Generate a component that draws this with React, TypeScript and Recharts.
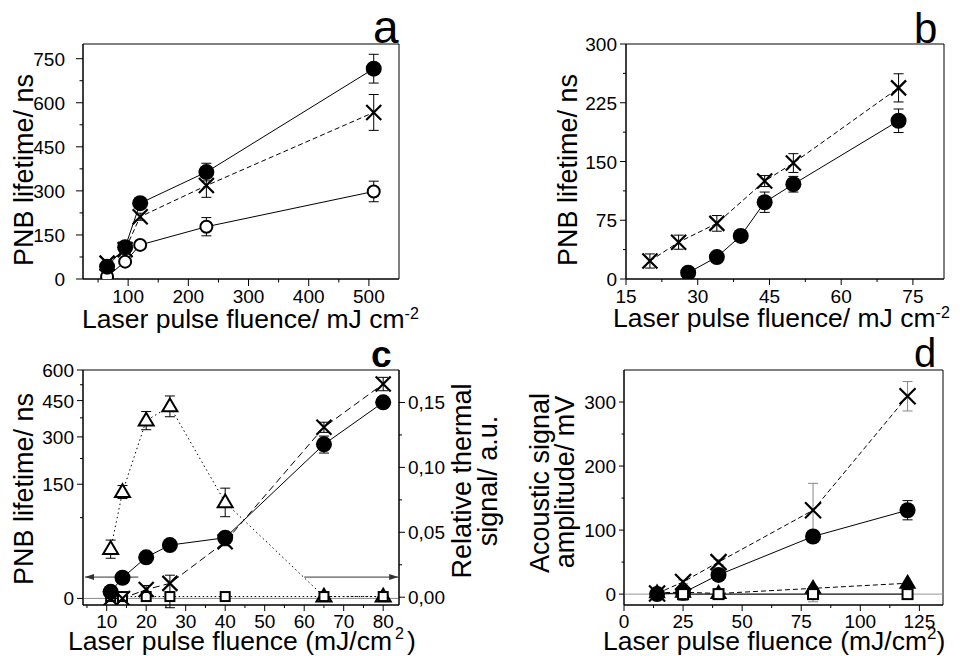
import {
  ComposedChart,
  Line,
  XAxis,
  YAxis,
  ErrorBar,
  ReferenceArea,
  ReferenceLine,
} from "recharts";

const FONT = "'Liberation Sans', Arial, Helvetica, sans-serif";
const TICK_FS = 19;

// --- panel a : PNB lifetime vs fluence (three samples)
const aFluence = [65, 95, 120, 230, 508];
const aFilled = [42, 108, 258, 364, 716];
const aFilledErr = [6, 12, 10, 30, 49];
const aCross = [54, 100, 212, 318, 567];
const aCrossErr = [5, 10, 12, 40, 61];
const aOpen = [8, 59, 116, 178, 298];
const aOpenErr = [4, 8, 8, 31, 35];
const aXTicks = [100, 200, 300, 400, 500];
const aXMinor = [50, 150, 250, 350, 450];
const aYTicks = [0, 150, 300, 450, 600, 750];
const aYMinor = [75, 225, 375, 525, 675];

// --- panel b
const bCrossFluence = [20, 26, 34, 44, 50, 72];
const bCross = [23, 47, 71, 125, 148, 244];
const bCrossErr = [9, 9, 10, 7, 12, 18];
const bFilledFluence = [28, 34, 39, 44, 50, 72];
const bFilled = [8, 28, 55, 98, 121, 202];
const bFilledErr = [3, 4, 5, 13, 10, 15];
const bXTicks = [15, 30, 45, 60, 75];
const bXMinor = [22.5, 37.5, 52.5, 67.5];
const bYTicks = [0, 75, 150, 225, 300];
const bYMinor = [37.5, 112.5, 187.5, 262.5];

// --- panel c : lifetime (left, compressed axis) + thermal signal (right)
const cFluence = [11, 14, 20, 26, 40, 65, 80];
const cFilled = [0.5, 4.9, 19.4, 32.7, 42.3, 273, 442];
const cFilledErr = [0, 0, 2, 3, 3, 30, 0];
const cCross = [0, 0, 0.9, 2.6, 36.9, 337, 529];
const cCrossErr = [0, 0, 1, 3.6, 5, 20, 33];
const cTriangle = [0.037, 0.081, 0.136, 0.147, 0.073, 0.0005, 0.0005];
const cTriangleErr = [0.007, 0.005, 0.007, 0.008, 0.011, 0.002, 0.002];
const cSquare = [0.0005, 0.0005, 0.0005, 0.0005, 0.0005, 0.0005, 0.0005];
const cXTicks = [10, 20, 30, 40, 50, 60, 70, 80];
const cXMinor = [5, 15, 25, 35, 45, 55, 65, 75];
const cYTicks = [0, 150, 300, 450, 600];
const cYMinor = [75, 225, 375, 525];
const cRTicks = [0, 0.05, 0.1, 0.15];
const cRMinor = [0.025, 0.075, 0.125];

// --- panel d : acoustic amplitude
const dFluence = [14, 25, 40, 80, 120];
const dCross = [1, 19, 50, 131, 309];
const dCrossErr = [0, 3, 4, 42, 23];
const dFilled = [0, 2, 30, 90, 131];
const dFilledErr = [0, 1, 3, 5, 15];
const dTriangle = [2, 3, 1, 9, 17];
const dSquare = [null, 0, 0, 0, 0];
const dSquareErr = [0, 10, 2, 12, 5];
const dXTicks = [0, 25, 50, 75, 100, 125];
const dXMinor = [12.5, 37.5, 62.5, 87.5, 112.5];
const dYTicks = [0, 100, 200, 300];
const dYMinor = [50, 150, 250];

type Pt = { x: number; y: number | null; e: number };
const pts = (xs: number[], ys: (number | null)[], es?: number[]): Pt[] =>
  xs.map((x, i) => ({ x, y: ys[i], e: es ? es[i] : 0 }));

type Mk = "disc" | "ring" | "cross" | "tri" | "triFill" | "square";

// marker glyphs, drawn at the point the Line gives us
const marker = (kind: Mk, r = 7.5) => (p: any) => {
  const { cx, cy, index } = p;
  const k = `m${index}`;
  if (cx == null || cy == null || Number.isNaN(cy)) return <g key={k} />;
  switch (kind) {
    case "disc":
      return <circle key={k} cx={cx} cy={cy} r={r} fill="#000" />;
    case "ring":
      return <circle key={k} cx={cx} cy={cy} r={r - 1} fill="#fff" stroke="#000" strokeWidth={2} />;
    case "cross":
      return (
        <path
          key={k}
          d={`M${cx - r},${cy - r}L${cx + r},${cy + r}M${cx - r},${cy + r}L${cx + r},${cy - r}`}
          stroke="#000"
          strokeWidth={2.2}
          fill="none"
        />
      );
    case "tri":
    case "triFill": {
      const h = r * 1.7;
      return (
        <path
          key={k}
          d={`M${cx},${cy - h * 0.62}L${cx + r},${cy + h * 0.38}L${cx - r},${cy + h * 0.38}Z`}
          fill={kind === "tri" ? "#fff" : "#000"}
          stroke="#000"
          strokeWidth={2}
        />
      );
    }
    default:
      return (
        <rect key={k} x={cx - r} y={cy - r} width={2 * r} height={2 * r} fill="#fff" stroke="#000" strokeWidth={2} />
      );
  }
};

// tick with its own mark: long for labelled values, short for minor ones
const tickOf =
  (
    side: "left" | "right" | "bottom",
    majors: number[],
    gap: number,
    len = 6,
    fmt: (v: number) => string = String
  ) =>
  (p: any) => {
    const { x, y, payload } = p;
    const v = payload.value;
    const major = majors.includes(v);
    const l = major ? len : len / 2;
    if (side === "bottom") {
      return (
        <g>
          <line x1={x} y1={y} x2={x} y2={y + l} stroke="#000" />
          {major && (
            <text x={x} y={y + gap} textAnchor="middle" fontSize={TICK_FS} fontFamily={FONT} fill="#000">
              {fmt(v)}
            </text>
          )}
        </g>
      );
    }
    const s = side === "left" ? -1 : 1;
    return (
      <g>
        <line x1={x} y1={y} x2={x + s * l} y2={y} stroke="#000" />
        {major && (
          <text
            x={x + s * (len + gap)}
            y={y + 7}
            textAnchor={side === "left" ? "end" : "start"}
            fontSize={TICK_FS}
            fontFamily={FONT}
            fill="#000"
          >
            {fmt(v)}
          </text>
        )}
      </g>
    );
  };

const comma = (v: number) => v.toFixed(2).replace(".", ",");

const axisProps = {
  tickLine: false,
  tickSize: 0,
  tickMargin: 0,
  interval: 0 as const,
  stroke: "#000",
  allowDataOverflow: true,
};

function series(
  id: string,
  data: Pt[],
  kind: Mk,
  dash: string | undefined,
  yAxisId: string,
  r = 7.5,
  errColor = "#000"
) {
  return (
    <Line
      key={id}
      data={data}
      dataKey="y"
      yAxisId={yAxisId}
      stroke="#000"
      strokeWidth={1}
      strokeDasharray={dash}
      dot={marker(kind, r)}
      activeDot={false}
      isAnimationActive={false}
    >
      <ErrorBar dataKey="e" direction="y" width={5} stroke={errColor} strokeWidth={1} />
    </Line>
  );
}

const arrowShape = (head: "start" | "end") => (p: any) => {
  const { x1, y1, x2, y2 } = p;
  const hx = head === "start" ? x1 : x2;
  const d = head === "start" ? 1 : -1;
  return (
    <g>
      <line x1={x1} y1={y1} x2={x2} y2={y2} stroke="#333" strokeWidth={1} />
      <path d={`M${hx},${y1}l${d * 9},-3l0,6z`} fill="#333" />
    </g>
  );
};

function PanelA() {
  const xd = [25, 550];
  const yd = [0, 800];
  return (
    <ComposedChart width={480} height={328} margin={{ top: 44, right: 81, bottom: 0, left: 0 }}>
      <XAxis type="number" dataKey="x" domain={xd} ticks={[...aXMinor, ...aXTicks]} tick={tickOf("bottom", aXTicks, 24, 7)} height={49} {...axisProps} />
      <YAxis yAxisId="l" type="number" domain={yd} ticks={[...aYMinor, ...aYTicks]} tick={tickOf("left", aYTicks, 11, 7)} width={83} {...axisProps} />
      <ReferenceArea yAxisId="l" x1={xd[0]} x2={xd[1]} y1={yd[0]} y2={yd[1]} fill="none" stroke="#000" strokeWidth={1} />
      {series("open", pts(aFluence, aOpen, aOpenErr), "ring", undefined, "l", 7)}
      {series("cross", pts(aFluence, aCross, aCrossErr), "cross", "5 3", "l")}
      {series("filled", pts(aFluence, aFilled, aFilledErr), "disc", undefined, "l", 8)}
    </ComposedChart>
  );
}

function PanelB() {
  const xd = [15, 81.5];
  const yd = [0, 300];
  return (
    <ComposedChart width={480} height={328} margin={{ top: 44, right: 16, bottom: 0, left: 0 }}>
      <XAxis type="number" dataKey="x" domain={xd} ticks={[...bXMinor, ...bXTicks]} tick={tickOf("bottom", bXTicks, 24, 6)} height={49} {...axisProps} />
      <YAxis yAxisId="l" type="number" domain={yd} ticks={[...bYMinor, ...bYTicks]} tick={tickOf("left", bYTicks, 3, 6)} width={146} {...axisProps} />
      <ReferenceArea yAxisId="l" x1={xd[0]} x2={xd[1]} y1={yd[0]} y2={yd[1]} fill="none" stroke="#000" strokeWidth={1} />
      {series("cross", pts(bCrossFluence, bCross, bCrossErr), "cross", "5 3", "l")}
      {series("filled", pts(bFilledFluence, bFilled, bFilledErr), "disc", undefined, "l", 8)}
    </ComposedChart>
  );
}

function PanelC() {
  const xd = [4, 84];
  const yd = [-0.5, 600];
  const rd = [-0.006, 0.175];
  return (
    <ComposedChart width={480} height={328} margin={{ top: 42, right: 0, bottom: 0, left: 0 }}>
      <XAxis type="number" dataKey="x" domain={xd} ticks={[...cXMinor, ...cXTicks]} tick={tickOf("bottom", cXTicks, 23.3, 6)} height={51} {...axisProps} />
      <YAxis yAxisId="l" type="number" scale="sqrt" domain={yd} ticks={[...cYMinor, ...cYTicks]} tick={tickOf("left", cYTicks, 3, 6)} width={83} {...axisProps} />
      <YAxis yAxisId="r" orientation="right" type="number" domain={rd} ticks={[...cRMinor, ...cRTicks]} tick={tickOf("right", cRTicks, 3, 6, comma)} width={81} {...axisProps} />
      <ReferenceArea yAxisId="r" x1={xd[0]} x2={xd[1]} y1={rd[0]} y2={rd[1]} fill="none" stroke="#000" strokeWidth={1} />
      <ReferenceLine yAxisId="l" y={0} stroke="#888" strokeWidth={1} />
      <ReferenceLine
        yAxisId="r"
        segment={[{ x: 4.5, y: 0.0155 }, { x: 18, y: 0.0155 }]}
        ifOverflow="visible"
        shape={arrowShape("start")}
      />
      <ReferenceLine
        yAxisId="r"
        segment={[{ x: 60, y: 0.0155 }, { x: 83.8, y: 0.0155 }]}
        ifOverflow="visible"
        shape={arrowShape("end")}
      />
      {series("tri", pts(cFluence, cTriangle, cTriangleErr), "tri", "1.5 3", "r")}
      {series("sq", pts(cFluence, cSquare), "square", "1.5 2.5", "r", 4.5)}
      {series("filled", pts(cFluence, cFilled, cFilledErr), "disc", undefined, "l", 8)}
      {series("cross", pts(cFluence, cCross, cCrossErr), "cross", "7 4", "l")}
    </ComposedChart>
  );
}

function PanelD() {
  const xd = [0, 135];
  const yd = [-17, 350];
  return (
    <ComposedChart width={480} height={328} margin={{ top: 42, right: 17, bottom: 0, left: 0 }}>
      <XAxis type="number" dataKey="x" domain={xd} ticks={[...dXMinor, ...dXTicks]} tick={tickOf("bottom", dXTicks, 23.3, 6)} height={51} {...axisProps} />
      <YAxis yAxisId="l" type="number" domain={yd} ticks={[...dYMinor, ...dYTicks]} tick={tickOf("left", dYTicks, 3, 5)} width={144} {...axisProps} />
      <ReferenceArea yAxisId="l" x1={xd[0]} x2={xd[1]} y1={yd[0]} y2={yd[1]} fill="none" stroke="#000" strokeWidth={1} />
      <ReferenceLine yAxisId="l" y={0} stroke="#999" strokeWidth={1} />
      {series("tri", pts(dFluence, dTriangle), "triFill", "5 3", "l", 7)}
      {series("filled", pts(dFluence, dFilled, dFilledErr), "disc", undefined, "l", 8)}
      {series("cross", pts(dFluence, dCross, dCrossErr), "cross", "5 3", "l", 8, "#888")}
      {series("sq", pts(dFluence, dSquare, dSquareErr), "square", undefined, "l", 5, "#888")}
    </ComposedChart>
  );
}

function Titles() {
  const t = { fontFamily: FONT, fill: "#000" };
  return (
    <svg width={960} height={656} style={{ position: "absolute", left: 0, top: 0, pointerEvents: "none" }}>
      <g {...t}>
        <text x={82} y={328} fontSize={26.5}>
          Laser pulse fluence/ mJ cm<tspan dy={-9} fontSize={16}>-2</tspan>
        </text>
        <text x={613} y={327} fontSize={26.5}>
          Laser pulse fluence/ mJ cm<tspan dy={-9} fontSize={16}>-2</tspan>
        </text>
        <text x={68} y={650} fontSize={26.5}>
          Laser pulse fluence (mJ/cm<tspan dx={3} dy={-11} fontSize={16}>2</tspan>
          <tspan dx={3} dy={11}>)</tspan>
        </text>
        <text x={603} y={650} fontSize={26.5}>
          Laser pulse fluence (mJ/cm<tspan dy={-11} fontSize={17}>2</tspan>
          <tspan dy={11}>)</tspan>
        </text>

        <text transform="translate(33,170) rotate(-90)" textAnchor="middle" fontSize={27}>PNB lifetime/ ns</text>
        <text transform="translate(577,170) rotate(-90)" textAnchor="middle" fontSize={27}>PNB lifetime/ ns</text>
        <text transform="translate(33,489) rotate(-90)" textAnchor="middle" fontSize={27}>PNB lifetime/ ns</text>
        <text transform="translate(471,481) rotate(-90)" textAnchor="middle" fontSize={27}>Relative thermal</text>
        <text transform="translate(497,481) rotate(-90)" textAnchor="middle" fontSize={27}>signal/ a.u.</text>
        <text transform="translate(549,483) rotate(-90)" textAnchor="middle" fontSize={27}>Acoustic signal</text>
        <text transform="translate(574,482) rotate(-90)" textAnchor="middle" fontSize={27}>amplitude/ mV</text>

        <text x={373} y={43} fontSize={46}>a</text>
        <text x={914} y={43} fontSize={42}>b</text>
        <text x={371} y={367} fontSize={37} fontWeight="bold">c</text>
        <text x={914} y={367} fontSize={40}>d</text>
      </g>
    </svg>
  );
}

export default function App() {
  return (
    <div style={{ position: "absolute", left: 0, top: 0, width: 960, height: 656, background: "#fff" }}>
      <div style={{ position: "absolute", left: 0, top: 0 }}>
        <PanelA />
      </div>
      <div style={{ position: "absolute", left: 480, top: 0 }}>
        <PanelB />
      </div>
      <div style={{ position: "absolute", left: 0, top: 328 }}>
        <PanelC />
      </div>
      <div style={{ position: "absolute", left: 480, top: 328 }}>
        <PanelD />
      </div>
      <Titles />
    </div>
  );
}
